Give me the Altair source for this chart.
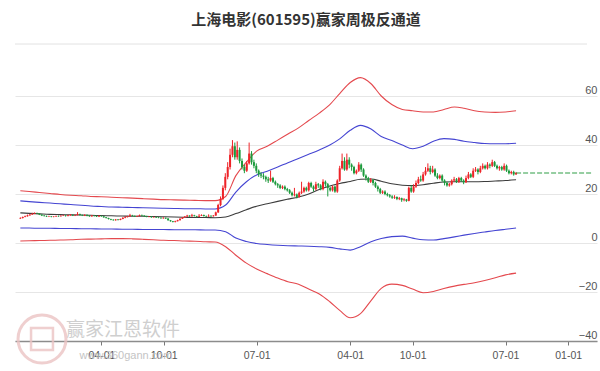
import altair as alt
import pandas as pd

TITLE = "上海电影(601595)赢家周极反通道"

# ---- weekly candles (first week 2021-08-06) ----
first_open = 10.0
close = [
    10.2, 10.6, 10.9, 11.3, 11.6, 11.9, 12.2, 12.0, 11.6, 11.2,
    11.0, 10.8, 10.9, 10.7, 10.8, 11.0, 10.9, 11.1, 11.2, 11.0,
    11.3, 11.5, 11.2, 11.4, 11.8, 11.4, 11.2, 11.5, 11.1, 10.9,
    11.2, 11.0, 10.8, 11.1, 10.9,
    10.5, 10.2, 9.8, 9.5, 9.3, 9.6, 9.4, 9.8, 10.3, 10.6,
    10.9, 11.3, 11.1, 10.8, 11.0, 11.4, 11.2, 10.9, 10.7, 10.8, 10.5, 10.6, 10.4, 10.3, 10.1, 10.3, 10.0,
    9.3, 8.9, 8.6, 8.9, 9.3, 9.9,
    10.4, 10.8, 11.2, 10.9, 11.3, 11.0, 10.7, 11.1, 11.4, 11.0, 10.8, 11.1, 10.9, 11.2,
    12.5, 15.5, 18.0, 22.5, 27.0, 31.0,
    36.0, 39.5, 35.0,
    38.0, 33.5, 31.0, 29.5, 32.5,
    36.5,
    33.0, 31.5, 29.5, 28.0, 27.5,
    27.0, 26.0, 25.5, 26.5, 25.0, 24.0, 23.5, 22.5, 23.0, 22.0, 21.5,
    20.5, 19.5, 19.8, 18.8,
    20.5, 21.0, 22.5, 21.5, 24.5, 23.0, 22.0, 24.0,
    23.5, 22.0, 25.0, 24.0, 22.5, 21.5, 23.0, 21.0, 25.5,
    30.5, 33.5, 30.0, 34.0,
    32.0, 31.0, 28.5, 29.5,
    32.0, 30.0, 27.5, 26.5, 25.0, 25.8,
    24.5, 23.0, 22.0, 20.5, 21.0, 20.0,
    19.5, 19.0, 18.5, 18.8, 18.0, 18.3, 17.5, 17.8,
    17.2, 22.5, 21.0, 23.0,
    24.5, 26.0, 25.5, 28.0, 29.5, 30.5,
    29.0, 30.0, 27.5, 26.5, 27.5, 25.5, 24.5, 23.5,
    24.0, 25.5, 26.0, 25.0, 26.5, 25.5, 24.8,
    26.5, 28.0, 27.0, 29.5, 30.0, 29.0, 30.5, 31.5, 30.5, 32.0, 31.5,
    33.0, 31.5, 30.5, 31.0, 30.0,
    31.5, 29.5, 28.5, 29.0, 28.0, 28.6,
]
high = [
    10.5, 10.8, 11.2, 11.6, 11.9, 12.3, 12.5, 12.4, 12.1, 11.7,
    11.4, 11.2, 11.1, 11.0, 11.0, 11.2, 11.2, 11.3, 11.5, 11.4,
    11.5, 11.8, 11.6, 11.6, 12.6, 12.0, 11.6, 11.7, 11.6, 11.3,
    11.4, 11.3, 11.2, 11.3, 11.2,
    11.0, 10.6, 10.3, 9.9, 9.7, 9.8, 9.8, 10.0, 10.5, 10.9,
    11.1, 11.9, 11.5, 11.2, 11.2, 11.6, 11.6, 11.3, 11.1, 11.0, 10.9, 10.8, 10.8, 10.6, 10.5, 10.5, 10.4,
    10.1, 9.4, 9.0, 9.1, 9.5, 10.1,
    10.6, 11.0, 11.5, 11.3, 11.9, 11.5, 11.1, 11.8, 11.7, 11.6, 11.2, 11.7, 11.3, 11.4,
    12.8, 16.0, 19.0, 23.5, 28.5, 33.0,
    38.5, 42.0, 41.0,
    41.5, 39.0, 34.5, 32.0, 33.5,
    41.0,
    37.5, 34.0, 32.5, 30.0, 29.0,
    28.5, 27.5, 27.0, 29.5, 27.0, 25.5, 24.5, 24.0, 23.5, 23.5, 22.5,
    22.0, 21.0, 22.5, 20.2,
    21.0, 25.0, 23.0, 23.0, 25.0, 25.0, 23.5, 25.0,
    24.5, 24.0, 26.0, 25.5, 24.5, 23.0, 23.5, 23.5, 26.0,
    31.5, 36.5, 35.0, 36.5,
    35.0, 32.5, 31.5, 30.0,
    33.0, 32.5, 30.5, 28.0, 27.0, 26.5,
    26.0, 25.0, 23.5, 22.5, 21.5, 21.5,
    20.5, 20.0, 19.5, 19.5, 19.0, 18.8, 18.5, 18.3,
    18.0, 23.0, 23.5, 24.0,
    25.5, 27.0, 27.5, 29.0, 31.0, 32.5,
    31.5, 31.5, 30.5, 28.5, 28.0, 28.0, 26.0, 25.0,
    24.5, 26.0, 27.0, 26.5, 27.0, 27.0, 26.0,
    27.5, 29.0, 28.5, 30.5, 31.0, 30.5, 31.5, 32.5, 32.0, 33.0, 32.5,
    34.0, 33.5, 32.0, 31.5, 31.5,
    32.5, 32.0, 30.0, 29.5, 29.5, 29.0,
]
low = [
    9.8, 10.0, 10.5, 10.8, 11.1, 11.5, 11.8, 11.8, 11.4, 11.0,
    10.8, 10.6, 10.6, 10.5, 10.5, 10.7, 10.7, 10.8, 11.0, 10.8,
    10.9, 11.1, 11.0, 11.0, 11.3, 11.2, 11.0, 11.0, 10.9, 10.7,
    10.7, 10.8, 10.6, 10.6, 10.7,
    10.3, 10.0, 9.6, 9.3, 9.1, 9.1, 9.2, 9.3, 9.7, 10.1,
    10.4, 10.8, 10.9, 10.6, 10.6, 10.9, 11.0, 10.7, 10.5, 10.5, 10.3, 10.3, 10.2, 10.1, 9.9, 9.9, 9.8,
    9.1, 8.7, 8.4, 8.4, 8.8, 9.2,
    9.8, 10.3, 10.7, 10.7, 10.8, 10.8, 10.5, 10.6, 11.0, 10.8, 10.6, 10.7, 10.7, 10.8,
    11.1, 12.3, 15.0, 17.5, 21.5, 26.0,
    30.0, 35.0, 34.0,
    34.0, 32.5, 30.0, 28.5, 29.0,
    32.0,
    32.0, 30.5, 28.5, 27.0, 26.5,
    26.0, 25.0, 24.5, 25.0, 24.5, 23.5, 22.5, 22.0, 22.0, 21.5, 21.0,
    20.0, 19.0, 19.0, 18.2,
    18.5, 20.0, 20.5, 21.0, 21.0, 22.5, 21.0, 21.5,
    22.5, 21.5, 21.5, 23.0, 19.0, 21.0, 21.0, 20.5, 20.5,
    25.0, 30.0, 29.5, 29.5,
    30.5, 29.5, 28.0, 28.0,
    29.0, 29.0, 27.0, 25.5, 24.5, 24.5,
    23.5, 22.5, 21.0, 20.0, 20.0, 19.5,
    19.0, 18.5, 18.0, 18.0, 17.5, 17.5, 16.8, 17.0,
    16.8, 17.0, 20.5, 20.5,
    22.5, 24.0, 25.0, 25.0, 27.5, 29.0,
    28.0, 28.5, 27.0, 26.0, 26.0, 25.0, 23.5, 23.0,
    23.0, 23.5, 25.0, 24.5, 24.5, 25.0, 24.0,
    24.5, 26.0, 26.5, 26.5, 29.0, 28.0, 28.5, 30.0, 30.0, 30.0, 30.5,
    31.0, 31.0, 30.0, 29.5, 29.5,
    29.5, 29.0, 28.0, 28.0, 27.5, 27.8,
]

# ---- channel lines (first point 2021-08-06, then month starts 2021-09 .. 2025-08) ----
red_upper = [21.3, 21.0, 20.6, 20.2, 19.8, 19.5, 19.3, 19.0, 18.9, 18.7,
             18.5, 18.3, 18.1, 17.9, 17.7, 17.6, 17.5, 17.4, 17.3, 17.3,
             19.0, 27.5, 33.0, 37.5, 39.5, 42.0, 44.5, 47.0, 50.0, 53.0,
             56.5, 61.0, 65.5, 67.5, 65.0, 60.0, 56.5, 54.5, 54.0, 53.5,
             53.5, 54.5, 55.5, 55.0, 54.0, 53.5, 53.3, 53.5, 54.0]
blue_upper = [17.2, 16.9, 16.6, 16.3, 16.0, 15.7, 15.4, 15.1, 14.9, 14.7,
              14.6, 14.5, 14.4, 14.3, 14.2, 14.1, 14.0, 14.0, 13.9, 13.9,
              15.5, 20.8, 25.0, 27.8, 29.3, 31.0, 32.8, 34.5, 36.2, 38.0,
              40.0, 42.5, 46.0, 48.0, 46.5, 43.5, 41.8, 40.0, 38.5, 39.5,
              41.5, 42.6, 42.3, 41.5, 41.0, 40.6, 40.5, 40.5, 40.7]
middle = [12.3, 12.1, 11.9, 11.7, 11.6, 11.5, 11.4, 11.3, 11.2, 11.1,
          11.0, 10.9, 10.9, 10.8, 10.7, 10.6, 10.5, 10.4, 10.4, 10.3,
          10.6, 12.0, 13.6, 15.0, 16.0, 17.0, 17.9, 18.8, 20.0, 21.8,
          23.3, 24.3, 25.1, 26.0, 26.1, 25.2, 24.2, 23.6, 23.4, 23.8,
          24.4, 24.9, 25.0, 25.0, 25.0, 25.1, 25.3, 25.5, 25.8]
blue_lower = [6.1, 6.1, 6.0, 6.0, 5.9, 5.9, 5.8, 5.8, 5.7, 5.7,
              5.6, 5.6, 5.5, 5.5, 5.5, 5.4, 5.4, 5.4, 5.3, 5.3,
              4.6, 2.0, 0.6, -0.2, -0.6, -0.9, -1.1, -1.2, -1.3, -1.5,
              -1.8, -2.4, -2.9, -1.5, 0.5, 1.8, 2.6, 2.8, 2.0, 1.3,
              1.2, 1.8, 2.5, 3.2, 3.9, 4.5, 5.1, 5.6, 6.1]
red_lower = [0.8, 0.9, 1.0, 1.1, 1.2, 1.3, 1.5, 1.6, 1.7, 1.8,
             1.8, 1.7, 1.5, 1.3, 1.1, 1.0, 0.8, 0.7, 0.5, 0.4,
             -1.5, -5.0, -8.2, -10.6, -12.5, -14.3, -15.8, -16.8, -18.8, -20.8,
             -24.0, -27.5, -30.5, -28.8, -23.5, -18.5, -16.8, -17.3, -18.8, -20.3,
             -19.8, -18.6, -17.6, -16.9, -16.2, -15.3, -14.2, -13.0, -12.3]

tick_dates = ["2022-04-01", "2022-10-01", "2023-07-01", "2024-04-01",
              "2024-10-01", "2025-07-01", "2026-01-01"]
y_ticks = [-40, -20, 0, 20, 40, 60]
last_line_end = "2026-03-12"

UP = "#ee2328"
DOWN = "#1c9a3c"

# ---- tables ----
week_dates = list(pd.date_range("2021-08-06", periods=len(close), freq="7D").strftime("%Y-%m-%dT00:00:00"))
opens = [first_open] + close[:-1]
candles = pd.DataFrame({"date": week_dates, "open": opens, "close": close,
                        "high": high, "low": low})

line_dates = ["2021-08-06T00:00:00"] + list(
    pd.date_range("2021-09-01", "2025-08-01", freq="MS").strftime("%Y-%m-%dT00:00:00"))
series_names = ["ru", "bu", "mid", "bl", "rl"]
series_vals = [red_upper, blue_upper, middle, blue_lower, red_lower]
rows = []
for name, vals in zip(series_names, series_vals):
    for d, v in zip(line_dates, vals):
        rows.append({"date": d, "value": v, "series": name})
bands = pd.DataFrame(rows)

last_df = pd.DataFrame({"date": [week_dates[-1], last_line_end + "T00:00:00"],
                        "value": [close[-1], close[-1]]})


def dt(s):
    y, m, d = s.split("-")
    return alt.DateTime(year=int(y), month=int(m), date=int(d))


x_enc = alt.X(
    "date:T",
    scale=alt.Scale(domain=[dt("2021-08-05"), dt("2026-03-12")]),
    axis=alt.Axis(values=[dt(s) for s in tick_dates], format="%m-%d", title=None,
                  grid=False, labelFlush=False, domainColor="#8c8c8c", domainWidth=1.5,
                  tickColor="#777777", tickSize=4, labelPadding=5, labelFontSize=10.5,
                  labelColor="#555555", labelFont="Liberation Sans"),
)
y_scale = alt.Scale(domain=[-40, 80], nice=False, zero=False)
y_axis = alt.Axis(values=y_ticks, orient="right", title=None, grid=True,
                  gridColor="#e6e6e6", domain=False, ticks=False, tickSize=0,
                  labelAlign="right", labelBaseline="bottom", labelPadding=0,
                  labelOffset=-1, labelFontSize=11, labelColor="#555555",
                  labelFont="Liberation Sans")

band_layer = alt.Chart(bands).mark_line(strokeWidth=1.1, interpolate="monotone").encode(
    x=x_enc,
    y=alt.Y("value:Q", scale=y_scale, axis=y_axis),
    color=alt.Color("series:N",
                    scale=alt.Scale(domain=series_names,
                                    range=["#e4494e", "#4545d2", "#3c3c3c", "#4545d2", "#e4494e"]),
                    legend=None),
    detail="series:N",
)

candle_color = alt.condition(alt.datum.close >= alt.datum.open, alt.value(UP), alt.value(DOWN))
wicks = alt.Chart(candles).mark_rule(strokeWidth=1).encode(
    x=x_enc, y=alt.Y("low:Q", scale=y_scale), y2="high:Q", color=candle_color)
bodies = alt.Chart(candles).mark_bar(size=2).encode(
    x=x_enc, y=alt.Y("open:Q", scale=y_scale), y2="close:Q", color=candle_color)

last_line = alt.Chart(last_df).mark_line(color="#2f9e46", strokeWidth=1.1,
                                         strokeDash=[5, 2]).encode(
    x=x_enc, y=alt.Y("value:Q", scale=y_scale))

title_layer = alt.Chart(pd.DataFrame({"t": [TITLE]})).mark_text(
    font="Noto Sans CJK SC", fontSize=15, fontWeight="bold", color="#333333",
    align="center", baseline="middle").encode(
    text="t:N", x=alt.value(291), y=alt.value(-27))

sep = alt.Chart(pd.DataFrame({"a": [0]})).mark_rule(color="#e2e2e2", strokeWidth=1).encode(
    x=alt.value(0), x2=alt.value(572), y=alt.value(-3))

logo_outer = alt.Chart(pd.DataFrame({"a": [0]})).mark_point(
    shape="circle", size=2300, filled=False, color="#ecc4c4", strokeWidth=3, opacity=0.8).encode(
    x=alt.value(27), y=alt.value(292))
logo_inner = alt.Chart(pd.DataFrame({"a": [0]})).mark_point(
    shape="square", size=480, filled=False, color="#ecc4c4", strokeWidth=2.5, opacity=0.8).encode(
    x=alt.value(27), y=alt.value(292))
wm1 = alt.Chart(pd.DataFrame({"t": ["赢家江恩软件"]})).mark_text(
    font="Noto Sans CJK SC", fontSize=19, color="#cfcfcf", align="center",
    baseline="middle").encode(text="t:N", x=alt.value(108), y=alt.value(283))
wm2 = alt.Chart(pd.DataFrame({"t": ["www.360gann.com"]})).mark_text(
    font="Liberation Sans", fontSize=11, color="#c4c4c4", align="center",
    baseline="middle").encode(text="t:N", x=alt.value(111), y=alt.value(309))

chart = alt.layer(
    band_layer, logo_outer, logo_inner, wm1, wm2, wicks, bodies, last_line, title_layer, sep
).properties(
    width=582, height=294,
    padding={"left": 15, "top": 47, "right": 3, "bottom": 30},
    autosize=alt.AutoSizeParams(type="none"),
    background="white",
).configure_view(stroke=None)

chart.save("out.html", embed_options={"renderer": "svg", "actions": False})
